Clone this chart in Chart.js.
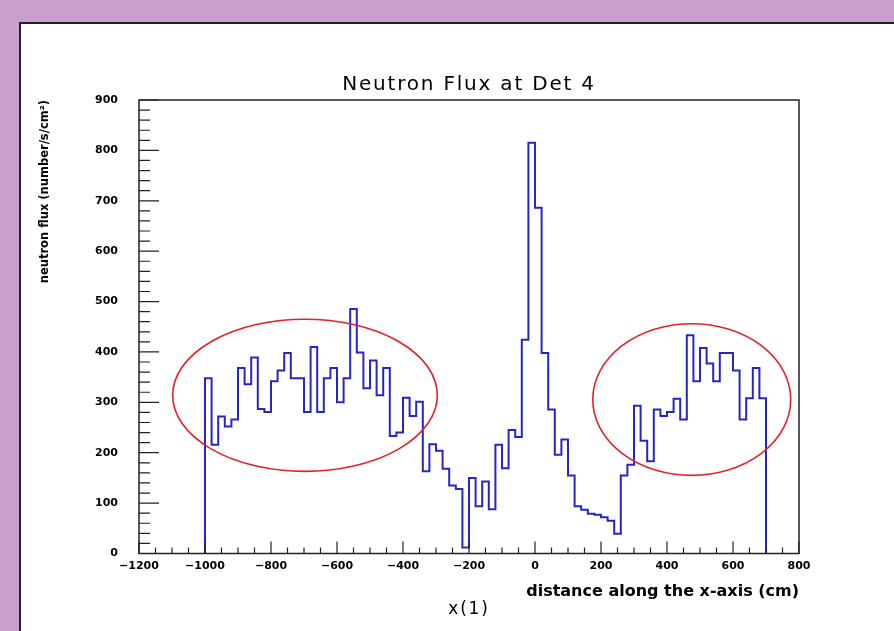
<!DOCTYPE html>
<html>
<head>
<meta charset="utf-8">
<script src="https://cdn.jsdelivr.net/npm/chart.js@4.4.1/dist/chart.umd.min.js"></script>
<style>
  html, body { margin: 0; padding: 0; }
  body { width: 894px; height: 631px; background: #c8a0cb; position: relative; overflow: hidden; }
  #panel { position: absolute; left: 19px; top: 22px; right: 0; bottom: 0; background: #fff;
           border-left: 2px solid #222; border-top: 2px solid #222; }
  #chart { position: absolute; left: 0; top: 0; }
</style>
</head>
<body>
<div id="panel"></div>
<canvas id="chart" width="894" height="631"></canvas>
<script>
// histogram of the flux, 20 cm bins starting at -1000 cm
const binStart = -1000;
const binWidth = 20;
const flux = [
  348, 216, 272, 252, 266, 368, 336, 389, 287, 281,
  342, 363, 398, 348, 348, 281, 410, 281, 348, 368,
  300, 348, 485, 399, 328, 383, 314, 368, 233, 240,
  309, 273, 301, 163, 217, 204, 168, 135, 128, 12,
  150, 94, 143, 88, 216, 169, 245, 231, 424, 815,
  686, 398, 286, 196, 226, 155, 94, 87, 79, 77,
  72, 65, 39, 155, 176, 293, 224, 183, 286, 273,
  281, 307, 266, 433, 342, 408, 377, 342, 398, 398,
  363, 266, 308, 368, 308
];

// axis ranges and tick steps
const xRange = [-1200, 800];
const yRange = [0, 900];
const xMajor = 200, xMinor = 50;
const yMajor = 100, yMinor = 20;

// the two regions circled in red (data units)
const circled = [
  { xMin: -1098, xMax: -296, yMin: 163, yMax: 465 },
  { xMin: 175, xMax: 775, yMin: 155, yMax: 456 }
];

// step outline: rise at the first edge, drop at the last one
const points = [{ x: binStart, y: 0 }];
flux.forEach((v, i) => points.push({ x: binStart + i * binWidth, y: v }));
points.push({ x: binStart + flux.length * binWidth, y: 0 });

const fmt = v => v < 0 ? '\u2212' + Math.abs(v) : String(v);

// ROOT style frame with inward ticks, plus the red ellipses
const rootFrame = {
  id: 'rootFrame',
  beforeDraw(chart) {
    // the picture's title text is drawn wide, spread its letters a bit
    chart.ctx.letterSpacing = '1.8px';
  },
  beforeDatasetsDraw(chart) {
    chart.ctx.letterSpacing = '0px';
  },
  afterDatasetsDraw(chart) {
    const { ctx, chartArea: a, scales: { x, y } } = chart;
    ctx.save();
    ctx.strokeStyle = '#222';
    ctx.lineWidth = 1.5;
    ctx.strokeRect(a.left, a.top, a.right - a.left, a.bottom - a.top);
    ctx.lineWidth = 1.2;
    ctx.beginPath();
    for (let v = xRange[0]; v <= xRange[1]; v += xMinor) {
      const px = x.getPixelForValue(v);
      const len = v % xMajor === 0 ? 12 : 6;
      ctx.moveTo(px, a.bottom);
      ctx.lineTo(px, a.bottom - len);
    }
    for (let v = yRange[0]; v <= yRange[1]; v += yMinor) {
      const py = y.getPixelForValue(v);
      const len = v % yMajor === 0 ? 20 : 11;
      ctx.moveTo(a.left, py);
      ctx.lineTo(a.left + len, py);
    }
    ctx.stroke();

    ctx.strokeStyle = '#e0222c';
    ctx.lineWidth = 1.6;
    circled.forEach(c => {
      const x0 = x.getPixelForValue(c.xMin), x1 = x.getPixelForValue(c.xMax);
      const y0 = y.getPixelForValue(c.yMax), y1 = y.getPixelForValue(c.yMin);
      ctx.beginPath();
      ctx.ellipse((x0 + x1) / 2, (y0 + y1) / 2, (x1 - x0) / 2, (y1 - y0) / 2, 0, 0, Math.PI * 2);
      ctx.stroke();
    });
    ctx.restore();
  }
};

const tickFont = { family: 'DejaVu Sans', size: 11, weight: 'bold' };

new Chart(document.getElementById('chart'), {
  type: 'line',
  data: {
    datasets: [{
      data: points,
      stepped: 'before',
      borderColor: '#2626c4',
      borderWidth: 2,
      pointRadius: 0,
      fill: false
    }]
  },
  options: {
    responsive: false,
    animation: false,
    devicePixelRatio: 1,
    layout: { padding: { left: 25, right: 95, top: 0, bottom: 12.5 } },
    plugins: {
      legend: { display: false },
      tooltip: { enabled: false },
      title: {
        display: true,
        text: 'Neutron Flux at Det 4',
        fullSize: false,
        color: '#000',
        font: { family: 'DejaVu Sans', size: 20, weight: 'normal', lineHeight: 1 },
        padding: { top: 75, bottom: 5 }
      },
      subtitle: {
        display: true,
        position: 'bottom',
        text: 'x(1)',
        fullSize: false,
        color: '#000',
        font: { family: 'DejaVu Sans', size: 17, weight: 'normal', lineHeight: 1 },
        padding: { top: 2, bottom: 0 }
      }
    },
    scales: {
      x: {
        type: 'linear',
        min: xRange[0],
        max: xRange[1],
        afterFit: s => { s.height = 46; },
        grid: { display: false, drawTicks: false, z: 1 },
        border: { display: false },
        ticks: { z: 1, stepSize: xMajor, padding: 6, color: '#000', font: tickFont,
                 maxRotation: 0, autoSkip: false, callback: fmt },
        title: {
          display: true,
          text: 'distance along the x-axis (cm)',
          align: 'end',
          color: '#000',
          font: { family: 'DejaVu Sans', size: 16, weight: 'bold', lineHeight: 1 },
          padding: { top: 0, bottom: 0 }
        }
      },
      y: {
        type: 'linear',
        min: yRange[0],
        max: yRange[1],
        afterFit: s => { s.width = 114; },
        grid: { display: false, drawTicks: false, z: 1 },
        border: { display: false },
        ticks: { z: 1, stepSize: yMajor, padding: 21, color: '#000', font: tickFont, callback: fmt },
        title: {
          display: true,
          text: 'neutron flux (number/s/cm\u00b2)',
          align: 'end',
          color: '#000',
          font: { family: 'DejaVu Sans', size: 11.5, weight: 'bold', lineHeight: 1 },
          padding: { top: 14, bottom: 0 }
        }
      }
    }
  },
  plugins: [rootFrame]
});
</script>
</body>
</html>
